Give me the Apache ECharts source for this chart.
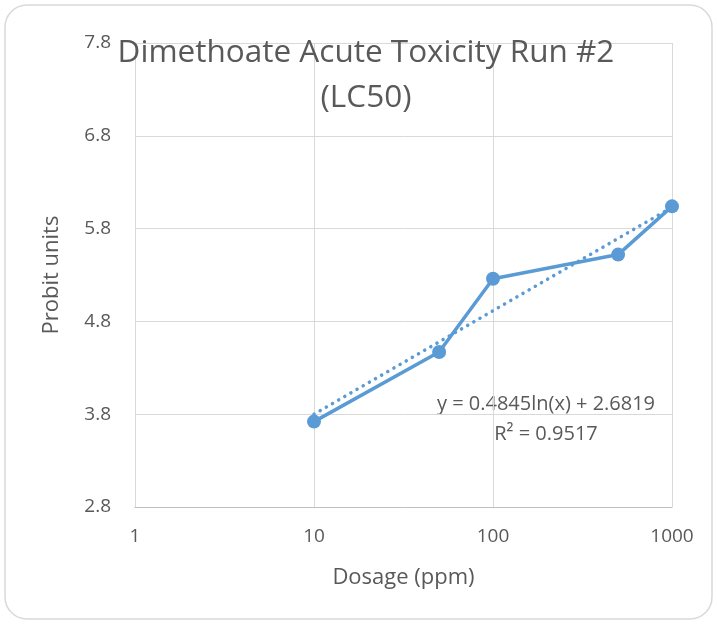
<!DOCTYPE html>
<html>
<head>
<meta charset="utf-8">
<script src="https://cdn.jsdelivr.net/npm/echarts@6/dist/echarts.min.js"></script>
<style>
  html, body { margin: 0; padding: 0; background: #fff; }
  #chart { width: 717px; height: 624px; }
</style>
</head>
<body>
<div id="chart"></div>
<script>
// dosage (ppm) and probit values
var dosage = [10, 50, 100, 500, 1000];
var probit = [3.72, 4.47, 5.26, 5.52, 6.04];
// log trendline endpoints
var trendX = [10, 1000];
var trendY = [3.80, 6.03];

var FONT = 'Open Sans';
var chart = echarts.init(document.getElementById('chart'));

chart.setOption({
  animation: false,
  backgroundColor: '#fff',
  grid: { left: 135, right: 45, top: 43, bottom: 117 },
  xAxis: {
    type: 'log',
    logBase: 10,
    min: 1,
    max: 1000,
    name: 'Dosage (ppm)',
    nameLocation: 'middle',
    nameGap: 60,
    nameTextStyle: { fontFamily: FONT, fontSize: 22, color: '#595959' },
    axisLine: { lineStyle: { color: '#bfbfbf', width: 1 } },
    axisTick: { show: false },
    minorTick: { show: false },
    axisLabel: { fontFamily: FONT, fontSize: 19, color: '#595959', margin: 20, formatter: function (v) { return String(v); } },
    splitLine: { show: true, lineStyle: { color: '#d9d9d9', width: 1 } }
  },
  yAxis: {
    type: 'value',
    min: 2.8,
    max: 7.8,
    interval: 1,
    name: 'Probit units',
    nameLocation: 'middle',
    nameGap: 72,
    nameTextStyle: { fontFamily: FONT, fontSize: 22, color: '#595959' },
    axisLine: { show: false },
    axisTick: { show: false },
    axisLabel: { fontFamily: FONT, fontSize: 19, color: '#595959', margin: 24, formatter: function (v) { return v.toFixed(1); } },
    splitLine: { show: true, lineStyle: { color: '#d9d9d9', width: 1 } }
  },
  series: [
    {
      type: 'line',
      data: trendX.map(function (x, i) { return [x, trendY[i]]; }),
      symbol: 'none',
      lineStyle: { color: '#5B9BD5', width: 3.5, type: [0.1, 7], cap: 'round' },
      z: 2
    },
    {
      type: 'line',
      data: dosage.map(function (x, i) { return [x, probit[i]]; }),
      symbol: 'circle',
      symbolSize: 14,
      itemStyle: { color: '#5B9BD5' },
      lineStyle: { color: '#5B9BD5', width: 3.5 },
      z: 3
    }
  ],
  graphic: [
    {
      type: 'rect',
      shape: { x: 5, y: 5, width: 707, height: 614, r: 22 },
      style: { fill: 'none', stroke: '#d9d9d9', lineWidth: 1.5 },
      z: -1
    },
    {
      type: 'text',
      x: 366, y: 53, z: 10,
      style: { text: 'Dimethoate Acute Toxicity Run #2', font: '31.5px "Open Sans"', fill: '#595959', align: 'center', verticalAlign: 'middle' }
    },
    {
      type: 'text',
      x: 366, y: 98, z: 10,
      style: { text: '(LC50)', font: '31.5px "Open Sans"', fill: '#595959', align: 'center', verticalAlign: 'middle' }
    },
    {
      type: 'text',
      x: 546, y: 404,
      style: { text: 'y = 0.4845ln(x) + 2.6819', font: '20px "Open Sans"', fill: '#595959', align: 'center', verticalAlign: 'middle' }
    },
    {
      type: 'text',
      x: 546, y: 434,
      style: { text: 'R² = 0.9517', font: '20px "Open Sans"', fill: '#595959', align: 'center', verticalAlign: 'middle' }
    }
  ]
});
</script>
</body>
</html>
